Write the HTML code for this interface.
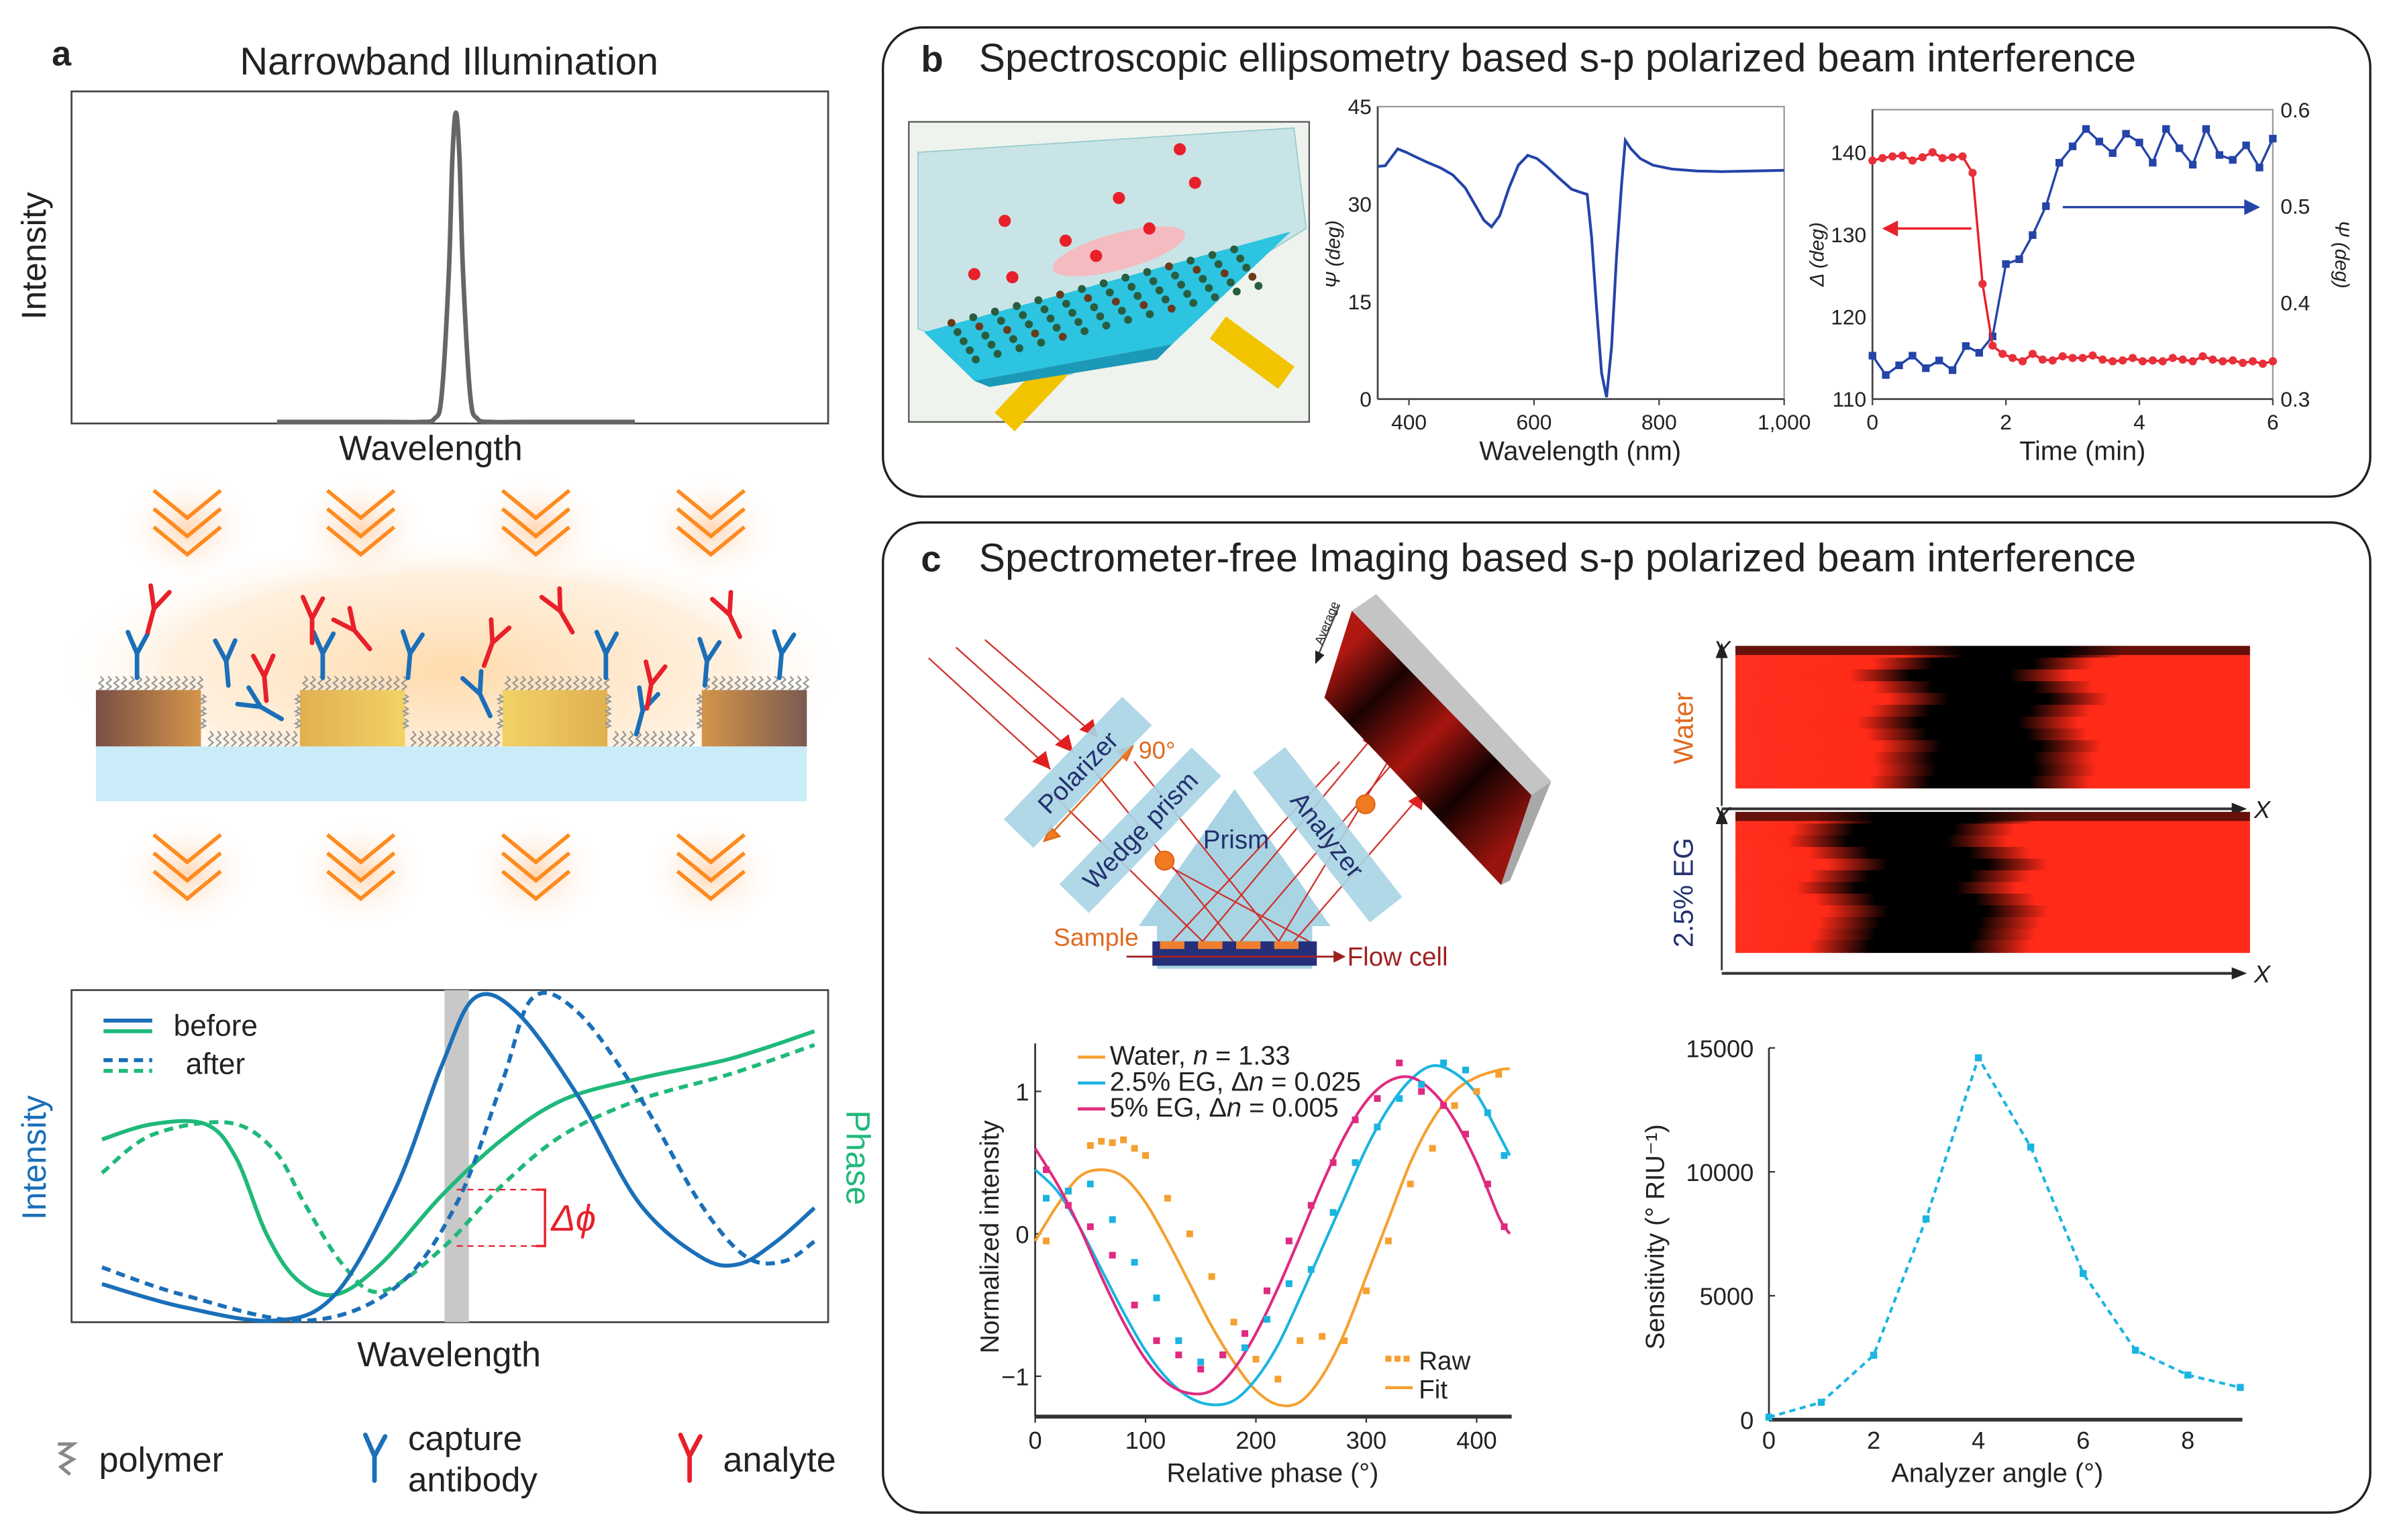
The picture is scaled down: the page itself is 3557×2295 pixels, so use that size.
<!DOCTYPE html>
<html><head><meta charset="utf-8">
<style>
html,body{margin:0;padding:0;background:#fff;}
svg{display:block;font-family:"Liberation Sans",Arial,sans-serif;}
</style></head>
<body>
<svg id="fig" xmlns="http://www.w3.org/2000/svg" width="3557" height="2295" viewBox="0 0 1568 1011" preserveAspectRatio="none">
<defs>
  <radialGradient id="glow" cx="50%" cy="50%" r="50%">
    <stop offset="0" stop-color="#ffd9a8" stop-opacity="0.95"/>
    <stop offset="0.7" stop-color="#ffe6c8" stop-opacity="0.6"/>
    <stop offset="1" stop-color="#fff" stop-opacity="0"/>
  </radialGradient>
  <radialGradient id="cglow" cx="50%" cy="50%" r="50%">
    <stop offset="0" stop-color="#ffc89a" stop-opacity="0.7"/>
    <stop offset="1" stop-color="#fff" stop-opacity="0"/>
  </radialGradient>
  <linearGradient id="goldL" x1="0" x2="1"><stop offset="0" stop-color="#7a4e44"/><stop offset="1" stop-color="#d4954a"/></linearGradient>
  <linearGradient id="goldR" x1="0" x2="1"><stop offset="0" stop-color="#d4954a"/><stop offset="1" stop-color="#7a5a50"/></linearGradient>
  <linearGradient id="goldM1" x1="0" x2="1"><stop offset="0" stop-color="#e0b050"/><stop offset="1" stop-color="#f2d266"/></linearGradient>
  <linearGradient id="goldM2" x1="0" x2="1"><stop offset="0" stop-color="#f2d266"/><stop offset="1" stop-color="#e0b050"/></linearGradient>
  <linearGradient id="camg" gradientUnits="userSpaceOnUse" x1="880" y1="430" x2="996" y2="551">
    <stop offset="0" stop-color="#b01812"/><stop offset="0.22" stop-color="#1a0302"/><stop offset="0.48" stop-color="#a8150f"/><stop offset="0.72" stop-color="#140201"/><stop offset="1" stop-color="#9a140e"/>
  </linearGradient>
</defs>
<g id="root"></g>
</svg>
<script>
// ================= DATA =================
const illumX=[0,30,40,44,46,48,49,50,51,52,54,56,60,70,100];
const illumY=[0,0,0,0.01,0.08,0.45,0.8,0.94,0.8,0.45,0.08,0.01,0,0,0];
const befIntX=[20,73,133,173,213,243,265,293,333,373,413,438,463,488];
const befIntY=[25,10,1,18,88,168,213,203,148,78,43,38,53,75];
const aftIntX=[20,73,153,213,253,283,303,333,373,413,443,468,488];
const aftIntY=[36,18,1,23,78,158,213,203,148,78,43,40,53];
const befPhX=[20,53,88,108,128,148,173,203,243,283,323,373,433,488];
const befPhY=[120,130,130,108,58,28,18,38,83,120,146,160,173,191];
const aftPhX=[20,53,103,133,153,178,203,243,283,323,373,433,488];
const aftPhY=[98,123,131,113,78,38,20,48,90,123,146,163,182];
const psiX=[350,362,372,382,395,410,430,450,470,490,505,520,532,545,560,575,590,605,620,640,660,675,685,692,700,708,716,724,732,740,746,755,770,790,820,860,900,950,1000];
const psiY=[35.8,35.9,37.2,38.5,38,37.3,36.4,35.6,34.5,32.5,30,27.5,26.5,28.2,32.5,36,37.5,37,35.8,34,32.3,31.8,31.5,25,14,4,0.3,8,22,33,39.8,38.5,37,36,35.4,35.1,35.0,35.1,35.2];
const delT=[0,0.15,0.3,0.45,0.6,0.75,0.9,1.05,1.2,1.35,1.5,1.65,1.8,1.95,2.1,2.25,2.4,2.55,2.7,2.85,3.0,3.15,3.3,3.45,3.6,3.75,3.9,4.05,4.2,4.35,4.5,4.65,4.8,4.95,5.1,5.25,5.4,5.55,5.7,5.85,6.0];
const delV=[139,139.3,139.5,139.6,139,139.4,140,139.3,139.4,139.5,137.5,124,116.5,115.5,115,114.6,115.5,114.8,114.7,115.2,115,115,115.3,114.8,114.6,114.7,115,114.6,114.7,114.6,115,114.8,114.6,115.2,114.8,114.6,114.7,114.4,114.6,114.3,114.6];
const psT=[0,0.2,0.4,0.6,0.8,1.0,1.2,1.4,1.6,1.8,2.0,2.2,2.4,2.6,2.8,3.0,3.2,3.4,3.6,3.8,4.0,4.2,4.4,4.6,4.8,5.0,5.2,5.4,5.6,5.8,6.0];
const psV=[0.345,0.325,0.335,0.345,0.332,0.34,0.33,0.355,0.348,0.365,0.44,0.445,0.47,0.5,0.545,0.562,0.58,0.567,0.555,0.575,0.566,0.545,0.58,0.56,0.543,0.58,0.553,0.548,0.563,0.54,0.57];
const waterBand=[1320,1300,1285,1300,1310,1298,1290,1296,1305,1300,1302,1298];
const egBand=[1262,1248,1244,1258,1270,1258,1250,1262,1270,1265,1262,1258];
const fitX=[0,20,40,60,80,100,120,140,160,180,200,220,240,260,280,300,320,340,360,380,400,420,430];
const waterFit=[-0.05,0.2,0.4,0.45,0.4,0.22,-0.05,-0.35,-0.65,-0.9,-1.1,-1.2,-1.18,-1.0,-0.7,-0.3,0.1,0.5,0.8,1.0,1.1,1.15,1.16];
const egFit=[0.45,0.3,0.05,-0.25,-0.55,-0.82,-1.02,-1.15,-1.2,-1.17,-1.02,-0.78,-0.45,-0.1,0.25,0.6,0.88,1.08,1.18,1.13,0.98,0.7,0.55];
const eg5Fit=[0.6,0.35,0.05,-0.3,-0.62,-0.88,-1.05,-1.12,-1.1,-0.95,-0.7,-0.38,-0.02,0.35,0.68,0.93,1.07,1.1,1.0,0.8,0.5,0.12,0.0];
const waterRawX=[10,30,50,60,70,80,90,100,120,140,160,180,200,220,240,260,280,300,320,340,360,380,400,420];
const waterRawY=[-0.05,0.3,0.62,0.65,0.64,0.66,0.6,0.55,0.25,0.0,-0.3,-0.62,-0.88,-1.02,-0.75,-0.72,-0.75,-0.4,-0.05,0.35,0.6,0.9,1.0,1.12];
const egRawX=[10,30,50,70,90,110,130,150,170,190,210,230,250,270,290,310,330,350,370,390,410,425];
const egRawY=[0.25,0.3,0.35,0.1,-0.2,-0.45,-0.75,-0.9,-0.85,-0.8,-0.6,-0.35,-0.25,0.15,0.5,0.75,0.95,1.05,1.2,1.15,0.85,0.55];
const eg5RawX=[10,30,50,70,90,110,130,150,170,190,210,230,250,270,290,310,330,350,370,390,410,425];
const eg5RawY=[0.45,0.2,0.05,-0.15,-0.5,-0.75,-0.85,-0.95,-0.85,-0.7,-0.4,-0.05,0.2,0.5,0.8,0.95,1.2,1.0,0.9,0.7,0.35,0.05];
const phTicks=[0,100,200,300,400];
const niTicks=[-1,0,1];
const angX=[0,1,2,3,4,5,6,7,8,9];
const sensY=[100,700,2600,8100,14600,11000,5900,2800,1800,1300];
const angTicks=[0,2,4,6,8];
const sensTicks=[0,5000,10000,15000];
const wlTicks=[400,600,800,1000];
const wlTickLabels=['400','600','800','1,000'];
const psiTicks=[0,15,30,45];
const tTicks=[0,2,4,6];
const delTicks=[110,120,130,140];
const psRTicks=[0.3,0.4,0.5,0.6];

// ================= HELPERS =================
const NS='http://www.w3.org/2000/svg';
const root=document.getElementById('root');
function mk(tag,attrs,parent){const e=document.createElementNS(NS,tag);for(const k in attrs)e.setAttribute(k,attrs[k]);(parent||root).appendChild(e);return e;}
function txt(s,x,y,size,opts,parent){opts=opts||{};const e=mk('text',{x:x,y:y,'font-size':size,fill:opts.fill||'#222','text-anchor':opts.anchor||'start'},parent);if(opts.weight)e.setAttribute('font-weight',opts.weight);if(opts.style)e.setAttribute('font-style',opts.style);if(opts.rot!==undefined)e.setAttribute('transform','rotate('+opts.rot+' '+x+' '+y+')');e.textContent=s;return e;}
function pathFrom(xs,ys,fx,fy){return xs.map((v,i)=>(i?'L':'M')+fx(v).toFixed(2)+' '+fy(ys[i]).toFixed(2)).join(' ');}
function smoothFrom(xs,ys,fx,fy){const p=xs.map((v,i)=>[fx(v),fy(ys[i])]);let d='M'+p[0][0]+' '+p[0][1];for(let i=0;i<p.length-1;i++){const p0=p[i-1]||p[i],p1=p[i],p2=p[i+1],p3=p[i+2]||p2;const c1x=p1[0]+(p2[0]-p0[0])/6,c1y=p1[1]+(p2[1]-p0[1])/6,c2x=p2[0]-(p3[0]-p1[0])/6,c2y=p2[1]-(p3[1]-p1[1])/6;d+=' C'+c1x.toFixed(2)+' '+c1y.toFixed(2)+' '+c2x.toFixed(2)+' '+c2y.toFixed(2)+' '+p2[0].toFixed(2)+' '+p2[1].toFixed(2);}return d;}

// ================= PANEL A =================
const gA=mk('g',{});


let t=txt('a',34,43,23,{weight:'bold'},gA);


t=txt('Narrowband Illumination',295,49,25.5,{anchor:'middle'},gA);


let r=mk('rect',{x:47,y:60,width:497,height:218,fill:'#fff',stroke:'#444','stroke-width':1.2},gA);


const ax=v=>47+135+v*2.35, ay=v=>277-v*216;
let p=mk('path',{d:smoothFrom(illumX,illumY,ax,ay),fill:'none',stroke:'#666','stroke-width':3},gA);


t=txt('Intensity',30,168,22.5,{anchor:'middle',rot:-90},gA);


t=txt('Wavelength',283,302,23,{anchor:'middle'},gA);



let gl=mk('ellipse',{cx:297,cy:440,rx:265,ry:90,fill:'url(#glow)'},gA);


[123,237,352,467].forEach(cx=>{[322,548].forEach(cy=>{
  const c=mk('ellipse',{cx:cx,cy:cy+25,rx:45,ry:38,fill:'url(#cglow)'},gA);
  
  
  const g=mk('g',{fill:'none',stroke:'#ff8a1e','stroke-width':2.5},gA);
  
  
  [0,12,24].forEach(o=>mk('polyline',{points:(cx-22)+','+(cy+o)+' '+cx+','+(cy+o+18)+' '+(cx+22)+','+(cy+o)},g));
});});
r=mk('rect',{x:63,y:490,width:467,height:36,fill:'#c9ecf8'},gA);


[[63,'url(#goldL)'],[197,'url(#goldM1)'],[330,'url(#goldM2)'],[461,'url(#goldR)']].forEach(b=>{
  const e=mk('rect',{x:b[0],y:453,width:69,height:37,fill:b[1]},gA);
  
  
});
const poly=mk('g',{stroke:'#999','stroke-width':1,fill:'none'},gA);


function squig(x,y,h){let d='M'+x+' '+y;for(let i=1;i<=4;i++)d+=' L'+(x+(i%2?2:-1))+' '+(y+h*i/4);mk('path',{d:d},poly);}
[[63,132],[197,266],[330,399],[461,530]].forEach(s=>{for(let x=s[0]+3;x<s[1];x+=5)squig(x,444,9);});
[[135,194],[268,327],[401,458]].forEach(s=>{for(let x=s[0]+3;x<s[1];x+=5)squig(x,480,10);});
[133,195,266,328,399,459].forEach(x=>{for(let y=456;y<480;y+=8)squig(x,y,6);});
function Y(x,y,rot,col,name){const g=mk('g',{transform:'translate('+x+' '+y+') rotate('+rot+')',stroke:col,'stroke-width':3,'stroke-linecap':'round',fill:'none'},gA);mk('path',{d:'M0 0 L0 -16 M0 -16 L-6 -30 M0 -16 L7 -29'},g);}
[[90,445,0],[150,450,-5],[185,472,-60],[212,445,0],[268,445,5],[322,470,-25],[398,445,0],[463,450,5],[418,482,15],[512,445,5]].forEach(a=>Y(a[0],a[1],a[2],'#1a6fb8','capture-antibody'));
[[97,415,15],[175,460,-5],[205,422,0],[243,426,-40],[318,437,20],[376,415,-30],[425,465,10],[486,418,-25]].forEach(a=>Y(a[0],a[1],a[2],'#e8202a','analyte'));

r=mk('rect',{x:47,y:650,width:497,height:218,fill:'#fff',stroke:'#444','stroke-width':1.2},gA);


r=mk('rect',{x:292,y:650,width:16,height:218,fill:'#c8c8c8'},gA);


const bx=v=>47+v, by=v=>868-v;
[[befPhX,befPhY,'#1fb97a',null,'phase-before-line'],[aftPhX,aftPhY,'#1fb97a','6 4','phase-after-line'],[befIntX,befIntY,'#1a6fb8',null,'intensity-before-line'],[aftIntX,aftIntY,'#1a6fb8','6 4','intensity-after-line']].forEach(s=>{
  const e=mk('path',{d:smoothFrom(s[0],s[1],bx,by),fill:'none',stroke:s[2],'stroke-width':2.6},gA);
  if(s[3])e.setAttribute('stroke-dasharray',s[3]);
  
  
});
const dg=mk('g',{stroke:'#e8202a','stroke-width':1},gA);


mk('line',{x1:300,y1:781,x2:352,y2:781,'stroke-dasharray':'4 3'},dg);
mk('line',{x1:300,y1:818,x2:352,y2:818,'stroke-dasharray':'4 3'},dg);
mk('path',{d:'M352 781 L358 781 L358 818 L352 818',fill:'none','stroke-width':1.5},dg);
t=txt('Δϕ',362,808,24,{fill:'#e8202a',style:'italic'},gA);


const lg=mk('g',{'stroke-width':2.6},gA);


mk('line',{x1:68,y1:670,x2:100,y2:670,stroke:'#1a6fb8'},lg);
mk('line',{x1:68,y1:677,x2:100,y2:677,stroke:'#1fb97a'},lg);
mk('line',{x1:68,y1:696,x2:100,y2:696,stroke:'#1a6fb8','stroke-dasharray':'6 4'},lg);
mk('line',{x1:68,y1:703,x2:100,y2:703,stroke:'#1fb97a','stroke-dasharray':'6 4'},lg);
t=txt('before',114,680,19.5,{},gA);


t=txt('after',122,705,19.5,{},gA);


t=txt('Intensity',30,760,22,{anchor:'middle',rot:-90,fill:'#1a6fb8'},gA);


t=txt('Phase',556,760,22,{anchor:'middle',rot:90,fill:'#1fb97a'},gA);


t=txt('Wavelength',295,897,23,{anchor:'middle'},gA);


const pl=mk('g',{stroke:'#888','stroke-width':2.2,fill:'none'},gA);


mk('path',{d:'M38 948 L48 948 L40 954 L48 958 L40 963 L46 968'},pl);
t=txt('polymer',65,966,23,{},gA);


Y(246,972,0,'#1a6fb8','capture-antibody-icon');
t=txt('capture',268,952,22.5,{},gA);


t=txt('antibody',268,979,22.5,{},gA);


Y(453,972,0,'#e8202a','analyte-icon');
t=txt('analyte',475,966,23,{},gA);



// ================= PANEL B =================
const gB=mk('g',{});


r=mk('rect',{x:580,y:18,width:977,height:308,rx:26,fill:'none',stroke:'#222','stroke-width':1.5},gB);


t=txt('b',605,47,24,{weight:'bold'},gB);


t=txt('Spectroscopic ellipsometry based s-p polarized beam interference',643,47,26,{},gB);


const ill=mk('g',{},gB);


mk('rect',{x:597,y:80,width:263,height:197,fill:'#eef3ee',stroke:'#555','stroke-width':1},ill);
mk('line',{x1:660,y1:277,x2:712,y2:222,stroke:'#f2c400','stroke-width':18},ill);
mk('line',{x1:800,y1:215,x2:845,y2:248,stroke:'#f2c400','stroke-width':18},ill);
mk('polygon',{points:'603,100 850,84 858,150 703,246 603,216',fill:'#bfe0e4','fill-opacity':0.8,stroke:'#9cc','stroke-width':0.8},ill);
mk('polygon',{points:'607,218 848,152 770,226 640,250',fill:'#2cc4e0'},ill);
mk('polygon',{points:'640,250 770,226 760,236 650,254',fill:'#1c98b8'},ill);
for(let i=0;i<70;i++){const u=(i%14)/14,v=Math.floor(i/14)/5;const x=625+u*200+v*20,y=212-u*52+v*-10+v*40;mk('circle',{cx:x.toFixed(1),cy:y.toFixed(1),r:2.6,fill:i%5?'#2a5d40':'#6b3a1a'},ill);}
mk('ellipse',{cx:735,cy:165,rx:45,ry:12,fill:'#ffb0b8',opacity:0.8,transform:'rotate(-15 735 165)'},ill);
[[640,180],[665,182],[700,158],[735,130],[785,120],[775,98],[660,145],[755,150],[720,168]].forEach(q=>mk('circle',{cx:q[0],cy:q[1],r:4,fill:'#e8202a'},ill));

const gb1=mk('g',{},gB);


const sx=v=>905+(v-350)*267/650, sy=v=>262-v*192/45;
r=mk('rect',{x:905,y:70,width:267,height:192,fill:'none',stroke:'#999','stroke-width':1},gb1);


mk('line',{x1:905,y1:70,x2:905,y2:262,stroke:'#444','stroke-width':1.2},gb1);
mk('line',{x1:905,y1:262,x2:1172,y2:262,stroke:'#444','stroke-width':1.2},gb1);
wlTicks.forEach((v,i)=>{mk('line',{x1:sx(v),y1:262,x2:sx(v),y2:266,stroke:'#444'},gb1);t=txt(wlTickLabels[i],sx(v),282,14,{anchor:'middle'},gb1);});
psiTicks.forEach(v=>{t=txt(String(v),901,sy(v)+5,14,{anchor:'end'},gb1);});
p=mk('path',{d:pathFrom(psiX,psiY,sx,sy),fill:'none',stroke:'#2444a8','stroke-width':1.8},gb1);


t=txt('Ψ (deg)',880,167,13,{anchor:'middle',rot:-90,style:'italic'},gb1);


t=txt('Wavelength (nm)',1038,302,17.5,{anchor:'middle'},gb1);



const gb2=mk('g',{},gB);


const tx=v=>1230+v*263/6, dy=v=>262-(v-110)*5.4, ry=v=>262-(v-0.3)*190/0.3;
r=mk('rect',{x:1230,y:72,width:263,height:190,fill:'none',stroke:'#999','stroke-width':1},gb2);


mk('line',{x1:1230,y1:72,x2:1230,y2:262,stroke:'#444','stroke-width':1.2},gb2);
mk('line',{x1:1230,y1:262,x2:1493,y2:262,stroke:'#444','stroke-width':1.2},gb2);
tTicks.forEach(v=>{mk('line',{x1:tx(v),y1:262,x2:tx(v),y2:266,stroke:'#444'},gb2);t=txt(String(v),tx(v),282,14,{anchor:'middle'},gb2);});
delTicks.forEach(v=>{t=txt(String(v),1226,dy(v)+5,14,{anchor:'end'},gb2);});
psRTicks.forEach(v=>{t=txt(v.toFixed(1),1498,ry(v)+5,14,{},gb2);});
p=mk('path',{d:pathFrom(psT,psV,tx,ry),fill:'none',stroke:'#2444a8','stroke-width':1.5},gb2);


psT.forEach((v,i)=>{const m=mk('rect',{x:tx(v)-2.5,y:ry(psV[i])-2.5,width:5,height:5,fill:'#2444a8'},gb2);});
p=mk('path',{d:pathFrom(delT,delV,tx,dy),fill:'none',stroke:'#e8202a','stroke-width':1.5},gb2);


delT.forEach((v,i)=>{const m=mk('circle',{cx:tx(v),cy:dy(delV[i]),r:2.7,fill:'#e8303a'},gb2);});
let ar=mk('g',{stroke:'#e8202a','stroke-width':1.5,fill:'#e8202a'},gb2);


mk('line',{x1:1295,y1:150,x2:1244,y2:150},ar);mk('path',{d:'M1238 150 L1246 146 L1246 154 Z'},ar);
ar=mk('g',{stroke:'#2444a8','stroke-width':1.5,fill:'#2444a8'},gb2);


mk('line',{x1:1355,y1:136,x2:1476,y2:136},ar);mk('path',{d:'M1483 136 L1475 132 L1475 140 Z'},ar);
t=txt('Δ (deg)',1198,167,13,{anchor:'middle',rot:-90,style:'italic'},gb2);


t=txt('Ψ (deg)',1534,167,13,{anchor:'middle',rot:90,style:'italic'},gb2);


t=txt('Time (min)',1368,302,17.5,{anchor:'middle'},gb2);



// ================= PANEL C =================
const gC=mk('g',{});


r=mk('rect',{x:580,y:343,width:977,height:650,rx:26,fill:'none',stroke:'#222','stroke-width':1.5},gC);


t=txt('c',605,375,24,{weight:'bold'},gC);


t=txt('Spectrometer-free Imaging based s-p polarized beam interference',643,375,26,{},gC);



const op=mk('g',{},gC);


mk('polygon',{points:'811,518 748,608 760,608 760,636 862,636 862,608 874,608',fill:'#a9d4e4'},op);
const ray=mk('g',{stroke:'#d0302a','stroke-width':1,fill:'none'},op);
[[610,432,690,505],[628,425,705,494],[647,420,721,484]].forEach(l=>mk('line',{x1:l[0],y1:l[1],x2:l[2],y2:l[3]},ray));
[[690,505],[705,494],[721,484]].forEach(a=>mk('path',{d:'M'+a[0]+' '+a[1]+' l-3 -12 l-9 7 Z',fill:'#e02020',stroke:'none'},op));
[[690,520,790,618],[718,505,810,618],[745,500,840,618],[770,570,860,618]].forEach(l=>mk('line',{x1:l[0],y1:l[1],x2:l[2],y2:l[3]},ray));
[[770,618,880,500],[790,618,905,480],[815,618,920,495],[840,618,930,470],[850,618,935,520]].forEach(l=>mk('line',{x1:l[0],y1:l[1],x2:l[2],y2:l[3]},ray));
[[905,480],[930,470],[935,520]].forEach(a=>mk('path',{d:'M'+a[0]+' '+a[1]+' l-1 12 l-9 -6 Z',fill:'#e02020',stroke:'none'},op));
const orr=mk('g',{stroke:'#e06a20','stroke-width':1.2,fill:'#f07a20'},op);
mk('line',{x1:688,y1:550,x2:742,y2:492},orr);
mk('path',{d:'M744 490 l-10 3 l6 6 Z'},orr);mk('path',{d:'M686 552 l10 -3 l-6 -6 Z'},orr);
mk('circle',{cx:765,cy:565,r:6},orr);mk('circle',{cx:897,cy:528,r:6},orr);
function box(cx,cy,w,h,rot,label,name){const g=mk('g',{transform:'translate('+cx+' '+cy+') rotate('+rot+')'},op);mk('rect',{x:-w/2,y:-h/2,width:w,height:h,fill:'#a9d4e4','fill-opacity':0.9},g);txt(label,0,6,17,{anchor:'middle',fill:'#23306e'},g);}
box(708,507,112,27,-46,'Polarizer','polarizer');
box(749,545,125,27,-46,'Wedge prism','wedge-prism');
box(872,548,125,27,52,'Analyzer','analyzer');
t=txt('Prism',812,557,17,{anchor:'middle',fill:'#23306e'},op);


t=txt('90°',760,498,16,{anchor:'middle',fill:'#e06a20'},op);


const cam=mk('g',{},op);


mk('polygon',{points:'888,401 904,390 1019,513 1006,522',fill:'#c4c4c4'},cam);
mk('polygon',{points:'1006,522 1019,513 992,578 986,581',fill:'#a8a8a8'},cam);
mk('polygon',{points:'888,401 870,458 986,581 1006,522',fill:'url(#camg)'},cam);
mk('line',{x1:880,y1:397,x2:866,y2:430,stroke:'#444','stroke-width':1},cam);
mk('path',{d:'M864 436 l0 -9 l6 3 Z',fill:'#222'},cam);
t=txt('Average',874,410,8,{anchor:'middle',rot:-68},op);


mk('rect',{x:757,y:618,width:108,height:16,fill:'#26307a'},op);
[762,787,812,837].forEach(x=>mk('rect',{x:x,y:618,width:16,height:5,fill:'#f08030'},op));
t=txt('Sample',720,621,16.5,{anchor:'middle',fill:'#e06a20'},op);


mk('line',{x1:740,y1:628,x2:878,y2:628,stroke:'#a02020','stroke-width':1.2},op);
mk('path',{d:'M884 628 L876 624 L876 632 Z',fill:'#a02020'},op);
t=txt('Flow cell',885,634,17,{fill:'#a02020'},op);



const defs=document.querySelector('defs');
function heat(y0,h,bands,name,lab,labCol,labY){
  const g=mk('g',{},gC);
  
  
  const rh=h/bands.length;
  bands.forEach((c,i)=>{
    const id=name+'-g'+i;
    const lgd=mk('linearGradient',{id:id,x1:0,x2:1,y1:0,y2:0},defs);
    const f=v=>((v-1140)/338).toFixed(4);
    [[1140,'#ff3020'],[c-70,'#ff2a18'],[c-30,'#000'],[c+35,'#000'],[c+75,'#ff2a18'],[1478,'#ff2a18']].forEach(s=>mk('stop',{offset:Math.max(0,Math.min(1,f(s[0]))),'stop-color':s[1]},lgd));
    const cell=mk('rect',{x:1140,y:(y0+i*rh).toFixed(2),width:338,height:(rh+0.6).toFixed(2),fill:'url(#'+id+')'},g);
    
    
  });
  mk('rect',{x:1140,y:y0,width:338,height:6,fill:'#000',opacity:0.6},g);
  mk('line',{x1:1131,y1:y0+h+12,x2:1131,y2:y0+4,stroke:'#333','stroke-width':1.2},g);
  mk('path',{d:'M1131 '+(y0-2)+' l-4 10 l8 0 Z',fill:'#222'},g);
  mk('line',{x1:1131,y1:y0+h+14,x2:1470,y2:y0+h+14,stroke:'#333','stroke-width':1.8},g);
  mk('path',{d:'M1476 '+(y0+h+14)+' l-10 -4 l0 8 Z',fill:'#222'},g);
  txt('Y',1131,y0+8,16,{anchor:'middle',style:'italic'},g);
  txt('X',1486,y0+h+20,16,{anchor:'middle',style:'italic'},g);
  const e=txt(lab,1112,labY,18,{anchor:'middle',rot:-90,fill:labCol},g);
  
  
}
heat(424,93,waterBand,'water-heatmap','Water','#e06a20',478);
heat(533,92,egBand,'eg-heatmap','2.5% EG','#23306e',586);

const gc3=mk('g',{},gC);


const px=v=>680+v*0.725, py=v=>810-v*93.5;
mk('line',{x1:680,y1:685,x2:680,y2:930,stroke:'#333','stroke-width':1.2},gc3);
mk('line',{x1:680,y1:930,x2:993,y2:930,stroke:'#333','stroke-width':2.5},gc3);
phTicks.forEach(v=>{mk('line',{x1:px(v),y1:930,x2:px(v),y2:934,stroke:'#333'},gc3);t=txt(String(v),px(v),951,16,{anchor:'middle'},gc3);});
niTicks.forEach(v=>{mk('line',{x1:680,y1:py(v),x2:684,y2:py(v),stroke:'#333'},gc3);t=txt(String(v).replace('-','−'),676,py(v)+6,16,{anchor:'end'},gc3);});
[[waterFit,'#f5a030','water-fit-line'],[egFit,'#1ab4e0','eg-fit-line'],[eg5Fit,'#e02a80','eg5-fit-line']].forEach(s=>{const e=mk('path',{d:smoothFrom(fitX,s[0],px,py),fill:'none',stroke:s[1],'stroke-width':1.8},gc3);});
[[waterRawX,waterRawY,'#f5a030','water-raw-point'],[egRawX,egRawY,'#1ab4e0','eg-raw-point'],[eg5RawX,eg5RawY,'#e02a80','eg5-raw-point']].forEach(s=>{s[0].forEach((v,i)=>{const m=mk('rect',{x:px(v)-2.2,y:py(s[1][i])-2.2,width:4.4,height:4.4,fill:s[2]},gc3);});});
[['#f5a030','Water, ',' = 1.33','n',699],['#1ab4e0','2.5% EG, Δ',' = 0.025','n',716],['#e02a80','5% EG, Δ',' = 0.005','n',733]].forEach(s=>{mk('line',{x1:708,y1:s[4]-5,x2:726,y2:s[4]-5,stroke:s[0],'stroke-width':2},gc3);const e=mk('text',{x:729,y:s[4],'font-size':17.5,fill:'#222'},gc3);e.appendChild(document.createTextNode(s[1]));const it=mk('tspan',{'font-style':'italic'},e);it.textContent=s[3];e.appendChild(document.createTextNode(s[2]));});
[912,918,924].forEach(x=>mk('rect',{x:x-2,y:890,width:4,height:4,fill:'#f5a030'},gc3));
t=txt('Raw',932,899,17,{},gc3);


mk('line',{x1:910,y1:911,x2:928,y2:911,stroke:'#f5a030','stroke-width':2},gc3);
t=txt('Fit',932,918,17,{},gc3);


t=txt('Normalized intensity',656,812,17,{anchor:'middle',rot:-90},gc3);


t=txt('Relative phase (°)',836,973,17.5,{anchor:'middle'},gc3);



const gc4=mk('g',{},gC);


const qx=v=>1162+v*34.4, qy=v=>932-v*0.01627;
mk('line',{x1:1162,y1:688,x2:1162,y2:932,stroke:'#333','stroke-width':1.2},gc4);
mk('line',{x1:1162,y1:932,x2:1473,y2:932,stroke:'#333','stroke-width':2.5},gc4);
angTicks.forEach(v=>{t=txt(String(v),qx(v),951,16,{anchor:'middle'},gc4);});
sensTicks.forEach(v=>{mk('line',{x1:1162,y1:qy(v),x2:1166,y2:qy(v),stroke:'#333'},gc4);t=txt(String(v),1152,qy(v)+6,16,{anchor:'end'},gc4);});
p=mk('path',{d:pathFrom(angX,sensY,qx,qy),fill:'none',stroke:'#1ab4e0','stroke-width':1.8,'stroke-dasharray':'4 3'},gc4);


angX.forEach((v,i)=>{const m=mk('rect',{x:qx(v)-2.3,y:qy(sensY[i])-2.3,width:4.6,height:4.6,fill:'#1ab4e0'},gc4);});
t=txt('Sensitivity (° RIU⁻¹)',1093,812,17,{anchor:'middle',rot:-90},gc4);


t=txt('Analyzer angle (°)',1312,973,17.5,{anchor:'middle'},gc4);


</script>
</body></html>
